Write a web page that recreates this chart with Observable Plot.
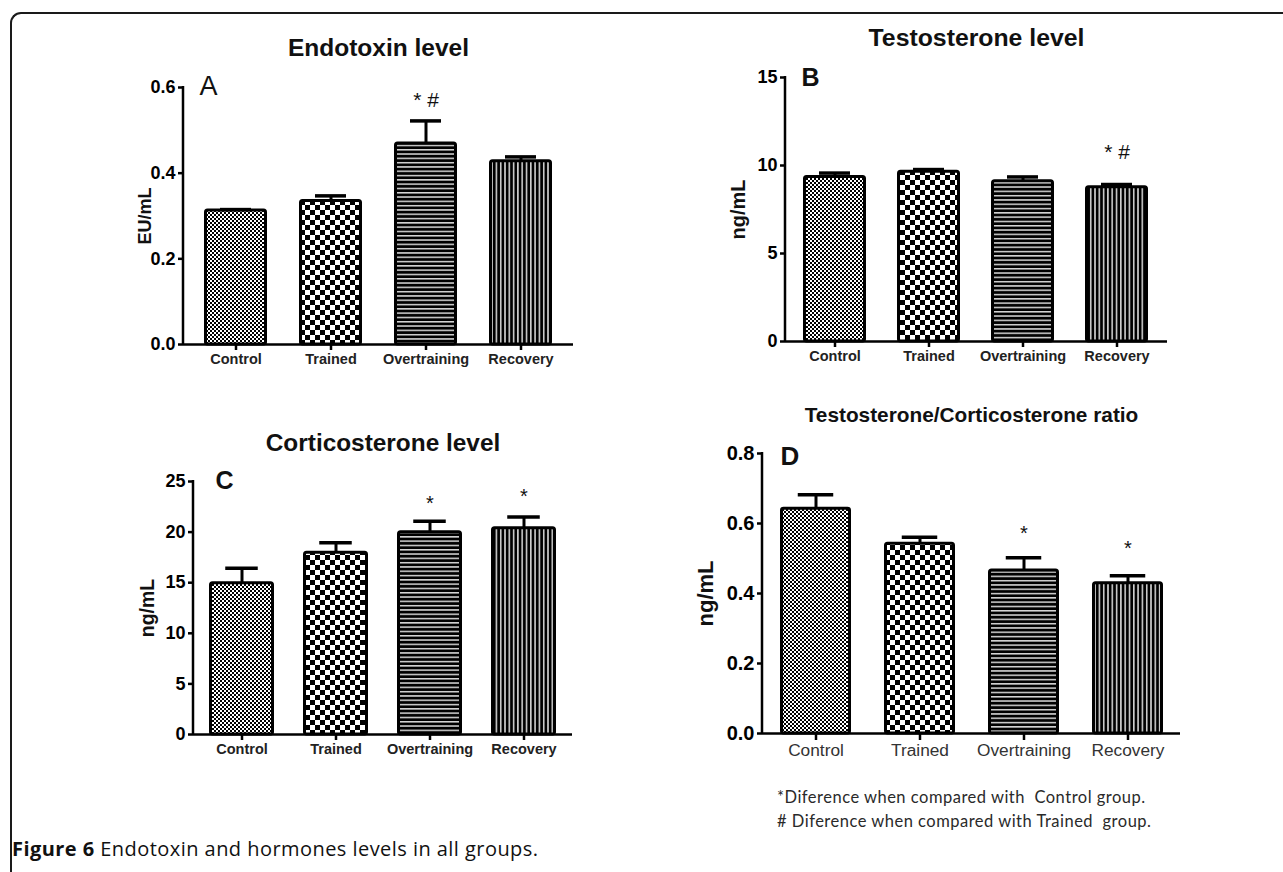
<!DOCTYPE html>
<html>
<head>
<meta charset="utf-8">
<script src="https://cdn.jsdelivr.net/npm/d3@7"></script>
<script src="https://cdn.jsdelivr.net/npm/@observablehq/plot@0.6"></script>
<style>
  html, body { margin: 0; padding: 0; background: #fff; }
  body { width: 1283px; height: 872px; overflow: hidden; position: relative; }
  #frame { position: absolute; left: 10px; top: 12px; width: 1300px; height: 900px;
           border-left: 2px solid #1a1a1a; border-top: 2px solid #1a1a1a; border-top-left-radius: 11px; }
  .panel { position: absolute; }
  #caption { position: absolute; left: 12px; top: 835px; font-family: "Open Sans", sans-serif; font-size: 20px; letter-spacing: 0.45px; color: #111; white-space: nowrap; }
  #caption b { font-weight: 700; }
  #note { position: absolute; left: 777px; top: 786px; font-family: Lato, "Open Sans", sans-serif; font-size: 16.5px; letter-spacing: 0.5px; line-height: 23.5px; color: #2a2a2a; white-space: pre; }
</style>
</head>
<body>
<svg width="0" height="0" style="position:absolute">
  <defs>
    <pattern id="pControl" width="4" height="4" patternUnits="userSpaceOnUse">
      <rect width="4" height="4" fill="#fff"/>
      <rect width="2" height="2" fill="#000"/>
      <rect x="2" y="2" width="2" height="2" fill="#000"/>
    </pattern>
    <pattern id="pTrained" width="10" height="10" patternUnits="userSpaceOnUse">
      <rect width="10" height="10" fill="#fff"/>
      <rect width="5" height="5" fill="#000"/>
      <rect x="5" y="5" width="5" height="5" fill="#000"/>
    </pattern>
    <pattern id="pOver" width="10" height="4.3" patternUnits="userSpaceOnUse">
      <rect width="10" height="4.3" fill="#000"/>
      <rect y="0" width="10" height="1.5" fill="#d8d8d8"/>
    </pattern>
    <pattern id="pRecovery" width="4.3" height="10" patternUnits="userSpaceOnUse">
      <rect width="4.3" height="10" fill="#000"/>
      <rect x="0" width="1.6" height="10" fill="#cfcfcf"/>
    </pattern>
  </defs>
</svg>
<div id="frame"></div>
<div id="charts"></div>
<div id="note">*Diference when compared with  Control group.
# Diference when compared with Trained  group.</div>
<div id="caption"><b>Figure 6</b> Endotoxin and hormones levels in all groups.</div>
<script>
// ---------------- data ----------------
const groups = ["Control", "Trained", "Overtraining", "Recovery"];

const endotoxinMean = [0.313, 0.335, 0.469, 0.428];
const endotoxinSem  = [0.002, 0.012, 0.053, 0.010];
const endotoxinTicks = [0, 0.2, 0.4, 0.6];
const endotoxinSigGroup = ["Overtraining"];
const endotoxinSigText  = ["* #"];
const endotoxinSigY     = [0.570];

const testosteroneMean = [9.35, 9.65, 9.11, 8.76];
const testosteroneSem  = [0.22, 0.12, 0.24, 0.16];
const testosteroneTicks = [0, 5, 10, 15];
const testosteroneSigGroup = ["Recovery"];
const testosteroneSigText  = ["* #"];
const testosteroneSigY     = [10.78];

const corticosteroneMean = [14.95, 17.95, 19.99, 20.39];
const corticosteroneSem  = [1.48, 0.99, 1.09, 1.11];
const corticosteroneTicks = [0, 5, 10, 15, 20, 25];
const corticosteroneSigGroup = ["Overtraining", "Recovery"];
const corticosteroneSigText  = ["*", "*"];
const corticosteroneSigY     = [22.8, 23.5];

const ratioMean = [0.642, 0.542, 0.466, 0.429];
const ratioSem  = [0.040, 0.019, 0.036, 0.022];
const ratioTicks = [0, 0.2, 0.4, 0.6, 0.8];
const ratioSigGroup = ["Overtraining", "Recovery"];
const ratioSigText  = ["*", "*"];
const ratioSigY     = [0.571, 0.528];

// ---------------- styles ----------------
const patternFill = {
  Control: "url(#pControl)",
  Trained: "url(#pTrained)",
  Overtraining: "url(#pOver)",
  Recovery: "url(#pRecovery)"
};
const FONT = '"Liberation Sans", Arial, sans-serif';

function panel(c) {
  const rows = groups.map((g, i) => ({g, v: c.mean[i], e: c.sem[i]}));
  const sig = c.sigGroup.map((g, i) => ({g, t: c.sigText[i], y: c.sigY[i]}));
  const range = c.width - c.mL - c.mR;
  const step = range / (groups.length - c.pi + 2 * c.po);
  const bw = step * (1 - c.pi);
  const capInset = bw / 4;
  const ymax = c.ticks[c.ticks.length - 1];

  const yAxisLine = (index, scales, values, dims) => {
    const l = document.createElementNS("http://www.w3.org/2000/svg", "line");
    l.setAttribute("x1", dims.marginLeft);
    l.setAttribute("x2", dims.marginLeft);
    l.setAttribute("y1", scales.y(ymax) - 1);
    l.setAttribute("y2", scales.y(0) + 1);
    l.setAttribute("stroke", "#000");
    l.setAttribute("stroke-width", 2.5);
    return l;
  };

  const svg = Plot.plot({
    width: c.width, height: c.height,
    marginLeft: c.mL, marginTop: c.mT, marginRight: c.mR, marginBottom: c.mB,
    style: {fontFamily: FONT, color: "#000", background: "transparent", overflow: "visible"},
    x: {domain: groups, paddingInner: c.pi, paddingOuter: c.po, label: null},
    y: {domain: [0, ymax], label: null},
    color: {type: "identity"},
    marks: [
      Plot.barY(rows, {x: "g", y: "v", fill: d => patternFill[d.g], stroke: "#000", strokeWidth: 3,
                       insetLeft: 1.5, insetRight: 1.5, rx: 2}),
      Plot.ruleX(rows, {x: "g", y1: "v", y2: d => d.v + d.e, stroke: "#000", strokeWidth: 3}),
      Plot.tickY(rows, {x: "g", y: d => d.v + d.e, stroke: "#000", strokeWidth: 3.5,
                        insetLeft: capInset, insetRight: capInset}),
      Plot.ruleY([0], {stroke: "#000", strokeWidth: 2.5}),
      yAxisLine,
      Plot.axisY(c.ticks, {tickSize: 5, tickPadding: 3, strokeWidth: 2.5, fontSize: c.tickFont,
                           fontWeight: "bold", tickFormat: c.fmt, label: null}),
      Plot.axisX({tickSize: c.xTick, tickPadding: 3, strokeWidth: 2.5, fontSize: c.catFont,
                  fontWeight: c.catWeight, fill: c.catColor, label: null}),
      Plot.text(sig, {x: "g", y: "y", text: "t", fontSize: c.sigSize, fill: "#111"}),
      Plot.text([c.title], {text: d => d, frameAnchor: "top", dy: c.titleDy, fontSize: c.titleSize,
                            fontWeight: "bold", fill: "#111", textAnchor: "middle", lineAnchor: "middle"}),
      Plot.text([c.letter], {text: d => d, frameAnchor: "top-left", dx: c.letterDx, dy: c.letterDy,
                             fontSize: c.letterSize, fontWeight: c.letterWeight, fill: "#111",
                             textAnchor: "start", lineAnchor: "middle"}),
      Plot.text([c.ylabel], {text: d => d, frameAnchor: "left", dx: c.ylabelDx, rotate: -90,
                             fontSize: c.ylabelSize, fontWeight: "bold", fill: "#111",
                             textAnchor: "middle", lineAnchor: "middle"})
    ]
  });
  svg.classList.add("panel");
  svg.style.left = c.left + "px";
  svg.style.top = c.top + "px";
  svg.style.maxWidth = "none";
  document.getElementById("charts").appendChild(svg);
}

panel({
  left: 100, top: 20, width: 500, height: 370, mL: 83, mT: 67, mR: 27, mB: 46,
  pi: 0.333, po: 0.198,
  mean: endotoxinMean, sem: endotoxinSem, ticks: endotoxinTicks, fmt: d3.format(".1f"),
  sigGroup: endotoxinSigGroup, sigText: endotoxinSigText, sigY: endotoxinSigY, sigSize: 21,
  title: "Endotoxin level", titleSize: 24.5, titleDy: -39,
  letter: "A", letterDx: 16, letterDy: -1, letterSize: 27, letterWeight: "normal",
  ylabel: "EU/mL", ylabelSize: 18, ylabelDx: -38,
  tickFont: 18, catFont: 14.5, catWeight: "bold", catColor: "#222", xTick: 6
});

panel({
  left: 690, top: 10, width: 510, height: 380, mL: 95, mT: 67, mR: 33, mB: 49,
  pi: 0.326, po: 0.174,
  mean: testosteroneMean, sem: testosteroneSem, ticks: testosteroneTicks, fmt: d3.format("d"),
  sigGroup: testosteroneSigGroup, sigText: testosteroneSigText, sigY: testosteroneSigY, sigSize: 21,
  title: "Testosterone level", titleSize: 24.8, titleDy: -39,
  letter: "B", letterDx: 16, letterDy: 0, letterSize: 25, letterWeight: "bold",
  ylabel: "ng/mL", ylabelSize: 20, ylabelDx: -47,
  tickFont: 18, catFont: 14.5, catWeight: "bold", catColor: "#222", xTick: 6
});

panel({
  left: 100, top: 420, width: 500, height: 360, mL: 93, mT: 61, mR: 28, mB: 46,
  pi: 0.311, po: 0.165,
  mean: corticosteroneMean, sem: corticosteroneSem, ticks: corticosteroneTicks, fmt: d3.format("d"),
  sigGroup: corticosteroneSigGroup, sigText: corticosteroneSigText, sigY: corticosteroneSigY, sigSize: 20,
  title: "Corticosterone level", titleSize: 24.4, titleDy: -38,
  letter: "C", letterDx: 22, letterDy: -1, letterSize: 25, letterWeight: "bold",
  ylabel: "ng/mL", ylabelSize: 19.5, ylabelDx: -46,
  tickFont: 18, catFont: 14.5, catWeight: "bold", catColor: "#222", xTick: 6
});

panel({
  left: 660, top: 395, width: 540, height: 385, mL: 102, mT: 58, mR: 20, mB: 47,
  pi: 0.319, po: 0.163,
  mean: ratioMean, sem: ratioSem, ticks: ratioTicks, fmt: d3.format(".1f"),
  sigGroup: ratioSigGroup, sigText: ratioSigText, sigY: ratioSigY, sigSize: 20,
  title: "Testosterone/Corticosterone ratio", titleSize: 20.8, titleDy: -38,
  letter: "D", letterDx: 18, letterDy: 3, letterSize: 26, letterWeight: "bold",
  ylabel: "ng/mL", ylabelSize: 22, ylabelDx: -57,
  tickFont: 20, catFont: 17.3, catWeight: "normal", catColor: "#333", xTick: 7
});
</script>
</body>
</html>
